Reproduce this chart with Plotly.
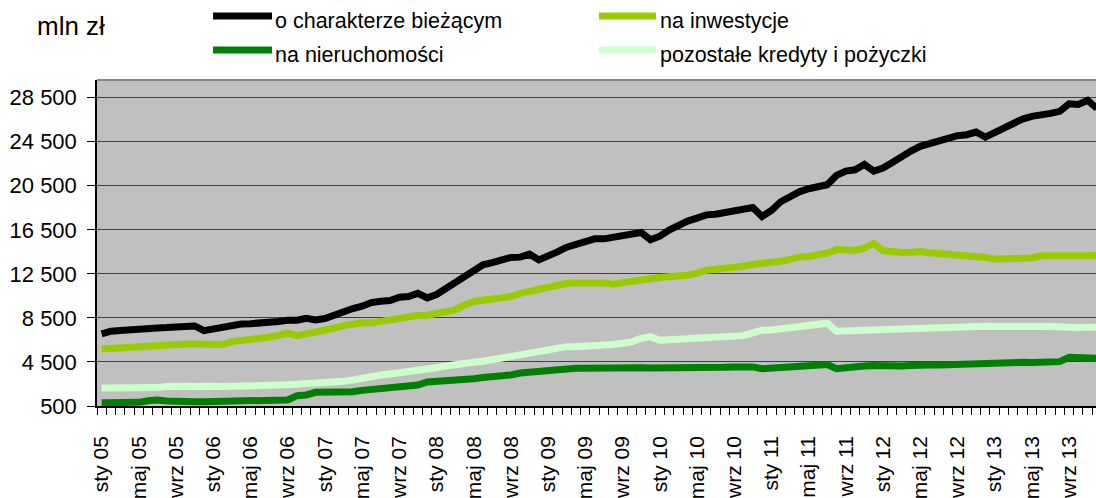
import plotly.graph_objects as go

# ---- data (mln zł), monthly from sty 05 (Jan 2005) to gru 13 (Dec 2013) ----
biezace = [7050, 7290, 7350, 7440, 7500, 7560, 7590, 7620, 7680, 7680, 7770, 7350,
           7530, 7680, 7830, 7950, 7980, 8020, 8050, 8170, 8290, 8290, 8470, 8320,
           8440, 8770, 9050, 9350, 9560, 9890, 10020, 10080, 10380, 10440, 10740, 10320,
           10620, 11170, 11710, 12380, 12950, 13320, 13530, 13770, 13990, 14020, 14290, 13770,
           14080, 14500, 14920, 15230, 15530, 15680, 15680, 15860, 15990, 16110, 16260, 15590,
           15920, 16470, 16950, 17290, 17560, 17860, 17920, 18080, 18260, 18290, 18530, 17710,
           18260, 19050, 19530, 19950, 20230, 20440, 20590, 21440, 21830, 21950, 22440, 21830,
           22110, 22620, 23170, 23650, 24080, 24320, 24680, 24770, 25050, 25140, 25380, 24920,
           25320, 25830, 26140, 26560, 26800, 27020, 27080, 27260, 27950, 27890, 28260, 27530]

inwestycje = [5680, 5740, 5830, 5890, 5920, 5950, 6020, 6080, 6110, 6140, 6140, 6140,
              6110, 6080, 6350, 6410, 6500, 6650, 6740, 6920, 7110, 6890, 7050, 7140,
              7260, 7560, 7800, 7980, 8050, 8050, 8200, 8410, 8560, 8680, 8710, 8740,
              8860, 9050, 9230, 9680, 9980, 10110, 10170, 10320, 10440, 10740, 10920, 11170,
              11290, 11470, 11650, 11680, 11710, 11740, 11680, 11560, 11650, 11770, 11890, 12050,
              12170, 12200, 12260, 12380, 12560, 12830, 12920, 12980, 13050, 13200, 13350, 13530,
              13560, 13620, 13860, 14020, 14080, 14200, 14380, 14710, 14710, 14620, 14860, 15260,
              14620, 14470, 14440, 14470, 14530, 14410, 14350, 14320, 14200, 14110, 14050, 13990,
              13860, 13800, 13890, 13920, 13950, 14140, 14110, 14110, 14080, 14080, 14140, 14170]

nieruchomosci = [800, 800, 800, 830, 830, 980, 1050, 950, 890, 890, 890, 890,
                 920, 920, 920, 920, 950, 980, 1010, 1050, 1050, 1440, 1500, 1740,
                 1740, 1770, 1770, 1800, 1920, 2010, 2110, 2200, 2260, 2350, 2410, 2680,
                 2710, 2800, 2830, 2890, 2980, 3080, 3140, 3200, 3320, 3500, 3590, 3650,
                 3770, 3860, 3890, 3920, 3920, 3950, 3950, 3950, 3950, 4010, 3980, 3950,
                 3950, 3950, 3890, 3860, 3950, 4010, 4010, 4010, 4050, 4080, 4050, 3890,
                 3950, 3950, 3950, 4010, 4080, 4170, 4260, 3890, 4010, 4080, 4140, 4170,
                 4110, 4110, 4140, 4170, 4260, 4230, 4230, 4260, 4290, 4350, 4410, 4470,
                 4470, 4470, 4470, 4470, 4440, 4440, 4470, 4530, 4920, 4860, 4830, 4830]

pozostale = [2140, 2140, 2170, 2200, 2200, 2080, 2170, 2260, 2290, 2290, 2290, 2290,
             2290, 2260, 2260, 2260, 2320, 2350, 2380, 2410, 2440, 2470, 2530, 2560,
             2620, 2680, 2740, 2860, 3050, 3230, 3320, 3410, 3500, 3590, 3710, 3830,
             3980, 4140, 4290, 4380, 4470, 4560, 4710, 4890, 5080, 5290, 5410, 5500,
             5650, 5800, 5890, 5890, 5920, 5950, 5990, 6080, 6200, 6320, 6650, 6800,
             6470, 6500, 6560, 6620, 6740, 6770, 6800, 6800, 6830, 6890, 7140, 7380,
             7410, 7500, 7620, 7710, 7800, 7890, 8020, 7290, 7320, 7350, 7410, 7440,
             7440, 7470, 7530, 7590, 7650, 7650, 7650, 7680, 7710, 7740, 7740, 7740,
             7710, 7680, 7650, 7680, 7710, 7710, 7710, 7650, 7590, 7620, 7650, 7650]

tick_labels = ["sty 05", "maj 05", "wrz 05", "sty 06", "maj 06", "wrz 06",
               "sty 07", "maj 07", "wrz 07", "sty 08", "maj 08", "wrz 08",
               "sty 09", "maj 09", "wrz 09", "sty 10", "maj 10", "wrz 10",
               "sty 11", "maj 11", "wrz 11", "sty 12", "maj 12", "wrz 12",
               "sty 13", "maj 13", "wrz 13"]

y_ticks = [500, 4500, 8500, 12500, 16500, 20500, 24500, 28500]
y_tick_text = ["500", "4 500", "8 500", "12 500", "16 500", "20 500", "24 500", "28 500"]

unit_label = "mln zł"

# ---- styling ----
FONT = "Liberation Sans, Arial, sans-serif"
colors = {
    "o charakterze bieżącym": "#000000",
    "na nieruchomości": "#008000",
    "na inwestycje": "#99CC00",
    "pozostałe kredyty i pożyczki": "#CCFFCC",
}
W, H = 1096, 498
ML, MR, MT, MB = 97, 0, 80, 92

x = list(range(len(biezace)))
data_map = {
    "o charakterze bieżącym": biezace,
    "na nieruchomości": nieruchomosci,
    "na inwestycje": inwestycje,
    "pozostałe kredyty i pożyczki": pozostale,
}

fig = go.Figure()
for name in ["pozostałe kredyty i pożyczki", "na nieruchomości", "na inwestycje",
             "o charakterze bieżącym"]:
    fig.add_trace(go.Scatter(
        x=x, y=data_map[name], mode="lines", name=name,
        line=dict(color=colors[name], width=7),
        showlegend=False, hoverinfo="skip",
    ))

label_pos = [4 * k for k in range(len(tick_labels))]
boundaries = [i - 0.5 for i in range(len(biezace) + 1)]

fig.update_xaxes(
    range=[-0.5, 106.9], automargin=False,
    tickmode="array", tickvals=label_pos, ticktext=tick_labels,
    tickangle=-90, ticks="", ticklabelstandoff=20,
    tickfont=dict(family=FONT, size=21, color="#000"),
    showgrid=False, zeroline=False,
    showline=True, linecolor="#000", linewidth=1.5,
    minor=dict(tickvals=boundaries, ticks="outside", ticklen=7,
               tickcolor="#000", tickwidth=1, showgrid=False),
)
fig.update_yaxes(
    range=[500, 30107], automargin=False,
    tickmode="array", tickvals=y_ticks, ticktext=y_tick_text,
    ticks="outside", ticklen=8, tickcolor="#000", tickwidth=1,
    ticklabelstandoff=6,
    tickfont=dict(family=FONT, size=22, color="#000"),
    showgrid=True, gridcolor="#404040", gridwidth=1,
    zeroline=False, showline=True, linecolor="#000", linewidth=1.5,
)

PW = W - ML - MR
PH = H - MT - MB


def px_x(px):
    return (px - ML) / PW


def px_y(py):
    return (H - MB - py) / PH


shapes = [
    dict(type="line", xref="paper", yref="paper", x0=0, x1=1, y0=1, y1=1,
         line=dict(color="#888888", width=2)),
]
annotations = [
    dict(text=unit_label, xref="paper", yref="paper", x=px_x(35), y=px_y(26),
         xanchor="left", yanchor="middle", showarrow=False,
         font=dict(family=FONT, size=26, color="#000")),
]
legend_layout = [
    ("o charakterze bieżącym", 213, 272, 273, 16, 21),
    ("na nieruchomości", 213, 272, 273, 50, 55),
    ("na inwestycje", 599, 656, 658, 16, 21),
    ("pozostałe kredyty i pożyczki", 599, 656, 658, 50, 55),
]
for name, lx0, lx1, tx, ly, ty in legend_layout:
    shapes.append(dict(type="line", xref="paper", yref="paper",
                       x0=px_x(lx0), x1=px_x(lx1), y0=px_y(ly), y1=px_y(ly),
                       line=dict(color=colors[name], width=7)))
    annotations.append(dict(text=name, xref="paper", yref="paper",
                            x=px_x(tx), y=px_y(ty), xanchor="left", yanchor="middle",
                            showarrow=False,
                            font=dict(family=FONT, size=21.5, color="#000")))

fig.update_layout(
    width=W, height=H,
    margin=dict(l=ML, r=MR, t=MT, b=MB, pad=0),
    paper_bgcolor="#FFFFFF", plot_bgcolor="#C0C0C0",
    font=dict(family=FONT, size=22, color="#000"),
    shapes=shapes, annotations=annotations,
    showlegend=False,
)

fig.write_html(
    "out.html",
    config={"displayModeBar": False},
    post_script="document.body.style.margin='0';document.body.style.padding='0';"
                "document.body.style.overflow='hidden';",
)
